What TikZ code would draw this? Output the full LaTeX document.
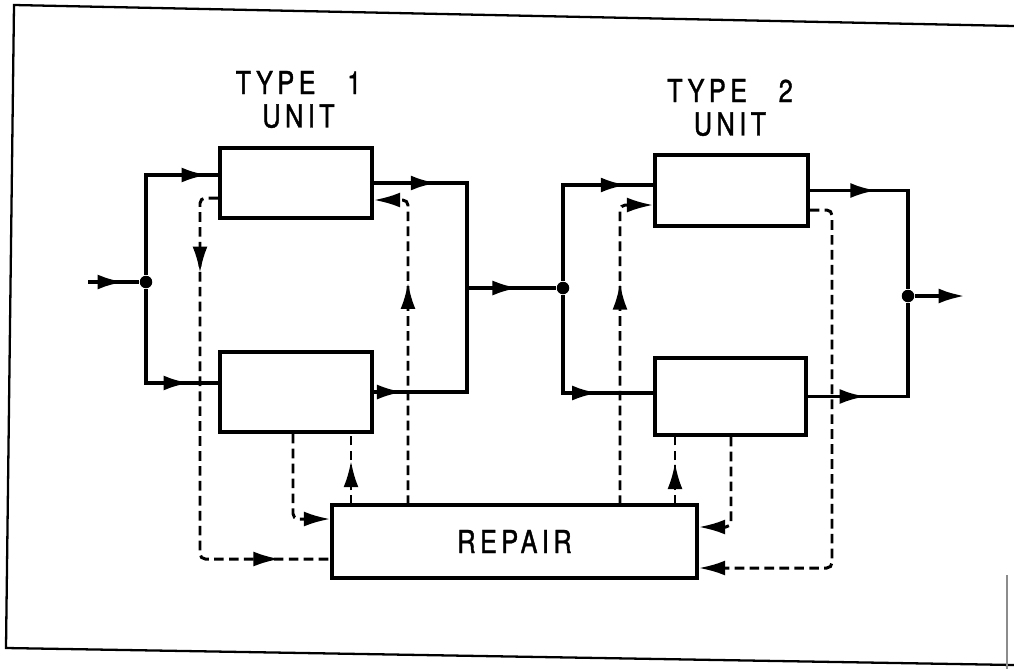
\documentclass[tikz,border=0pt]{standalone}
\usepackage{fontspec}
\newfontfamily\lettering[FakeStretch=0.8,LetterSpace=14,FakeBold=1.2]{TeX Gyre Heros}
\usetikzlibrary{calc,arrows.meta,positioning,decorations.markings}

\begin{document}
\begin{tikzpicture}[
  flowtip/.tip={Latex[length=15pt,width=8.5pt]},
  unitbox/.style={draw, line width=2pt, minimum width=3.04cm, minimum height=#1, inner sep=0pt},
  unitbox/.default=1.4cm,
  lettered/.style={font=\lettering\fontsize{18}{19}\selectfont},
  lbl/.style={lettered, align=center, inner sep=0pt},
  dot/.style={circle, fill, inner sep=0pt, minimum size=0.25cm},
  flow/.style={line width=2.2pt},
  back/.style={line width=1.7pt, dash pattern=on 5.5pt off 3pt, rounded corners=3pt},
  arrowat/.style={postaction={decorate, decoration={markings, mark=at position #1 with {\arrow{flowtip}}}}}]
\useasboundingbox (0,0) rectangle (20.28,-13.38);
%% frame of the sheet
\draw[line width=1.3pt] (20.28,-0.52) -- (0.28,-0.1) -- (0.12,-12.96) -- (20.28,-13.3);
\draw[black!45, line width=0.6pt] (20.14,-11.5) -- (20.14,-13.38);
%% units
\node[unitbox] (T1a) at (5.92,-3.66) {};
\node[unitbox=1.6cm] (T1b) at (5.92,-7.84) {};
\node[unitbox=1.42cm, minimum width=3.06cm] (T2a) at (14.63,-3.81) {};
\node[unitbox=1.54cm, minimum width=3.02cm] (T2b) at (14.61,-7.93) {};
\node[unitbox=1.46cm, minimum width=7.3cm, lettered] (Rep) at (10.29,-10.83) {REPAIR};
\node[lbl] (lbl1) at (5.97,-1.99) {TYPE\quad 1\\UNIT};
\node[lbl] (lbl2) at (14.6,-2.15) {TYPE\quad 2\\UNIT};
%% junctions
\coordinate (in) at (1.76,-5.64);
\node[dot] (j1) at (2.92,-5.64) {};
\coordinate (rb) at (9.34,-5.76);
\node[dot] (j2) at (11.26,-5.76) {};
\node[dot] (j3) at (18.16,-5.92) {};
\coordinate (out) at (19.3,-5.92);
%% main flow
\draw[flow, arrowat=0.7] (in) -- (j1);
\draw[flow, arrowat=0.94] (j1) |- ($(T1a.west)+(0,0.16)$);
\draw[flow, arrowat=0.83] (j1) |- ($(T1b.west)+(0,0.18)$);
\draw[flow, arrowat=0.32] (T1a.east) -| (rb);
\draw[flow, arrowat=0.15] (T1b.east) -| (rb);
\draw[flow, arrowat=0.58] (rb) -- (j2);
\draw[flow, arrowat=0.86] (j2) |- ($(T2a.west)+(0,0.11)$);
\draw[flow, arrowat=0.71] (j2) |- ($(T2b.west)+(0,0.07)$);
\draw[flow, arrowat=0.34] (T2a.east) -| (j3);
\draw[flow, arrowat=0.30] (T2b.east) -| (j3);
\draw[flow, -flowtip] (j3) -- (out);
%% repair loops, type 1
\coordinate (d1) at (4.0,-11.18);
\coordinate (u1) at (7.02,-10.1);
\coordinate (u2) at (8.16,-10.1);
\draw[back, arrowat=0.18, arrowat=0.9] ($(T1a.west)+(0,-0.3)$) -| (d1) -- (d1 -| Rep.west);
\draw[back, -flowtip] ($(T1b.south)+(-0.06,0)$) |- ($(Rep.west)+(0,0.45)$);
\draw[back, arrowat=0.62] (u1) -- (u1 |- T1b.south);
\draw[back, arrowat=0.66, -flowtip] (u2) |- ($(T1a.east)+(0,-0.34)$);
%% repair loops, type 2
\coordinate (d2) at (16.64,-11.36);
\coordinate (u3) at (12.4,-10.1);
\coordinate (u4) at (13.5,-10.1);
\draw[back, arrowat=0.67, -flowtip] (u3) |- ($(T2a.west)+(0,-0.29)$);
\draw[back, -flowtip] ($(T2a.east)+(0,-0.39)$) -| (d2) -- (d2 -| Rep.east);
\draw[back, -flowtip] ($(T2b.south)+(0.01,0)$) |- ($(Rep.east)+(0,0.29)$);
\draw[back, arrowat=0.62] (u4) -- (u4 |- T2b.south);
\end{tikzpicture}
\end{document}
